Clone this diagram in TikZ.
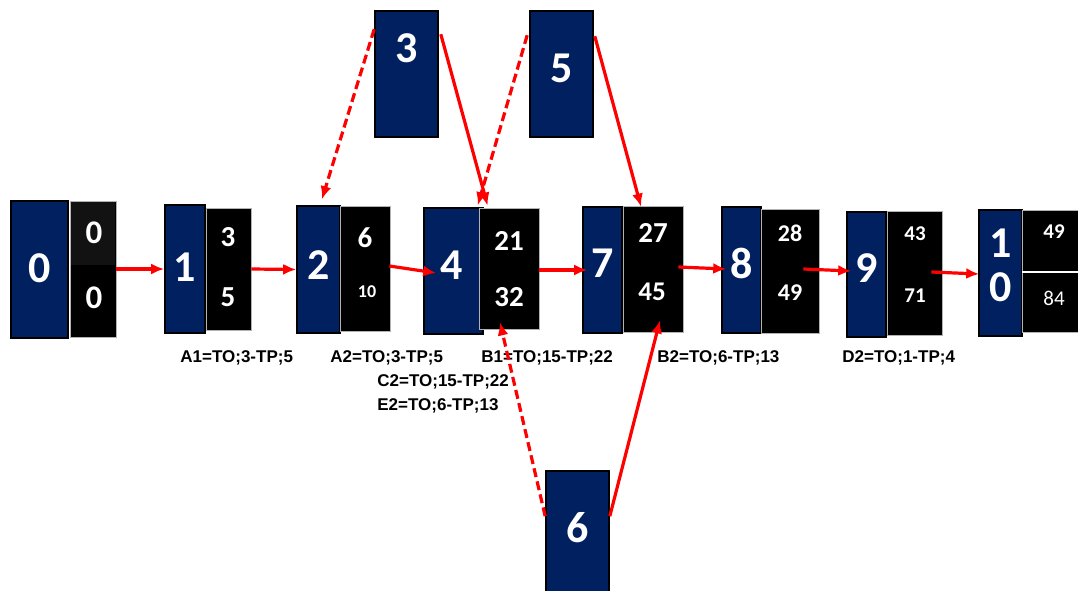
\documentclass[tikz,border=0pt]{standalone}
\usepackage{fontspec}
\setmainfont{Carlito}
\newfontfamily\lblfont{Liberation Sans}
\usepackage{tikz}
\usetikzlibrary{calc,arrows.meta}
\definecolor{navy}{RGB}{0,32,96}

\tikzset{
  bluebox/.style={draw=black, line width=0.8pt, fill=navy, inner sep=0pt},
  blackbox/.style={draw=gray!60, line width=0.4pt, fill=black, inner sep=0pt},
  sz/.style 2 args={minimum width=#1*0.5pt, minimum height=#2*0.5pt},
  bignum/.style={text=white, inner sep=0pt, font=\bfseries\fontsize{22}{23}\selectfont},
  num/.style={text=white, inner sep=0pt, font=\bfseries\fontsize{14.5}{15}\selectfont},
  smallnum/.style={text=white, inner sep=0pt, font=\bfseries\fontsize{10.5}{11}\selectfont},
  lbl/.style={anchor=west, inner sep=0pt, font=\lblfont\bfseries\fontsize{8.5}{10}\selectfont},
  link/.style={-{Latex[length=6.5pt,width=5.5pt]}, red, line width=1.6pt},
  dlink/.style={link, dash pattern=on 4.5pt off 2.2pt},
}

\begin{document}
\begin{tikzpicture}[x=0.5pt, y=-0.5pt]
    \useasboundingbox (0,0) rectangle (1078,590);

    % blue boxes
    \node[bluebox, sz={57}{137}] (b0) at (39.5,269.5) {};
    \node[bluebox, sz={40}{128}] (b1) at (185,269) {};
    \node[bluebox, sz={43}{127}] (b2) at (318.5,269.5) {};
    \node[bluebox, sz={59}{126}] (b4) at (453.5,271) {};
    \node[bluebox, sz={39}{126}] (b7) at (602.5,270) {};
    \node[bluebox, sz={39}{126}] (b8) at (741.5,270) {};
    \node[bluebox, sz={39}{125}] (b9) at (866.5,274.5) {};
    \node[bluebox, sz={43}{126}] (b10) at (1000.5,273) {};
    \node[bluebox, sz={63}{126}] (b3) at (406.5,74) {};
    \node[bluebox, sz={63}{126}] (b5) at (561.5,74) {};
    \node[bluebox, sz={63}{124}] (b6) at (577.5,533) {};

    % black boxes
    \node[blackbox, sz={46}{136}] (k0) at (93,269) {};
    \fill[black!93] ($(k0.north west)+(1,1)$) rectangle ($(k0.north east)+(-1,64)$);
    \node[blackbox, sz={45}{122}] (k1) at (228.5,269) {};
    \node[blackbox, sz={50}{125}] (k2) at (365,268.5) {};
    \node[blackbox, sz={60}{121}] (k4) at (509,268.5) {};
    \node[blackbox, sz={60}{126}] (k7) at (653,269) {};
    \node[blackbox, sz={58}{124}] (k8) at (790,271) {};
    \node[blackbox, sz={55}{124}] (k9) at (914.5,273) {};
    \node[blackbox, sz={58}{122}] (k10) at (1051,271) {};
    \draw[white, line width=0.8pt] ($(k10.west)+(0,1)$) -- ($(k10.east)+(0,1)$);

    % numbers
    \node[bignum] (t0) at (39.5,268) {0};
    \node[bignum] (t1) at (185,267) {1};
    \node[bignum] (t2) at (318.5,265) {2};
    \node[bignum] (t4) at (452,265) {4};
    \node[bignum] (t7) at (602.5,263) {7};
    \node[bignum] (t8) at (741.5,263) {8};
    \node[bignum] (t9) at (866.5,268) {9};
    \node[bignum] (t10a) at (1000.5,243) {1};
    \node[bignum] (t10b) at (1000.5,287) {0};
    \node[bignum] (t3) at (406.5,48) {3};
    \node[bignum] (t5) at (561.5,68) {5};
    \node[bignum] (t6) at (577.5,528) {6};

    \node[num, font=\bfseries\fontsize{16.5}{17}\selectfont] (u0) at (94,233) {0};
    \node[num, font=\bfseries\fontsize{16.5}{17}\selectfont] (l0) at (94,298) {0};
    \node[num] (u1) at (228,237) {3};
    \node[num] (l1) at (228,297) {5};
    \node[num] (u2) at (365,238) {6};
    \node[text=white, inner sep=0pt, font=\bfseries\fontsize{9}{10}\selectfont] (l2) at (367,292) {10};
    \node[num] (u4) at (509,241) {21};
    \node[num] (l4) at (509,297) {32};
    \node[num] (u7) at (653,233) {27};
    \node[num, font=\bfseries\fontsize{13.5}{14}\selectfont] (l7) at (652,292) {45};
    \node[smallnum, font=\bfseries\fontsize{12}{13}\selectfont] (u8) at (790,233) {28};
    \node[smallnum, font=\bfseries\fontsize{12}{13}\selectfont] (l8) at (790,293) {49};
    \node[smallnum] (u9) at (915,234) {43};
    \node[smallnum] (l9) at (915,296) {71};
    \node[smallnum] (u10) at (1054,232) {49};
    \node[smallnum, font=\fontsize{10.5}{11}\selectfont] (l10) at (1054,298) {84};

    % labels
    \node[lbl] (la1) at (180,358) {A1=TO;3-TP;5};
    \node[lbl] (la2) at (330,358) {A2=TO;3-TP;5};
    \node[lbl] (lb1) at (481,358) {B1=TO;15-TP;22};
    \node[lbl] (lb2) at (657,358) {B2=TO;6-TP;13};
    \node[lbl] (ld2) at (842,358) {D2=TO;1-TP;4};
    \node[lbl] (lc2) at (377,382) {C2=TO;15-TP;22};
    \node[lbl] (le2) at (377,406) {E2=TO;6-TP;13};

    % chain
    \draw[link] (k0.east) -- (b1.west);
    \draw[link] (k1.east) -- (b2.west);
    \draw[link] ($(k2.east)+(-1,-2.5)$) -- ($(b4.west)+(13,2)$);
    \draw[link] ($(k4.east)+(0,1.5)$) -- ($(b7.west)+(5,0)$);
    \draw[link] ($(k7.east)+(-5,-2)$) -- ($(b8.west)+(5,-1)$);
    \draw[link] ($(k8.east)+(-16,-2)$) -- ($(b9.west)+(5,-3.5)$);
    \draw[link] ($(k9.east)+(-11,-1)$) -- ($(b10.west)+(1,1)$);

    % side boxes
    \draw[dlink] ($(b3.north west)+(0,19)$) -- ($(b2.north)+(3.5,-6)$);
    \draw[link] ($(b3.north east)+(2,24)$) -- ($(k4.north west)+(9,-2)$);
    \draw[dlink] ($(b5.north west)+(-2,25)$) -- ($(b4.north east)+(-6,-2)$);
    \draw[link] ($(b5.north east)+(1,26)$) -- ($(k7.north)+(-12,1)$);
    \draw[dlink] ($(b6.north west)+(0,46)$) -- ($(k4.south)+(-9,-7)$);
    \draw[link] ($(b6.north east)+(0,46)$) -- ($(k7.south)+(7,-12)$);
\end{tikzpicture}
\end{document}
